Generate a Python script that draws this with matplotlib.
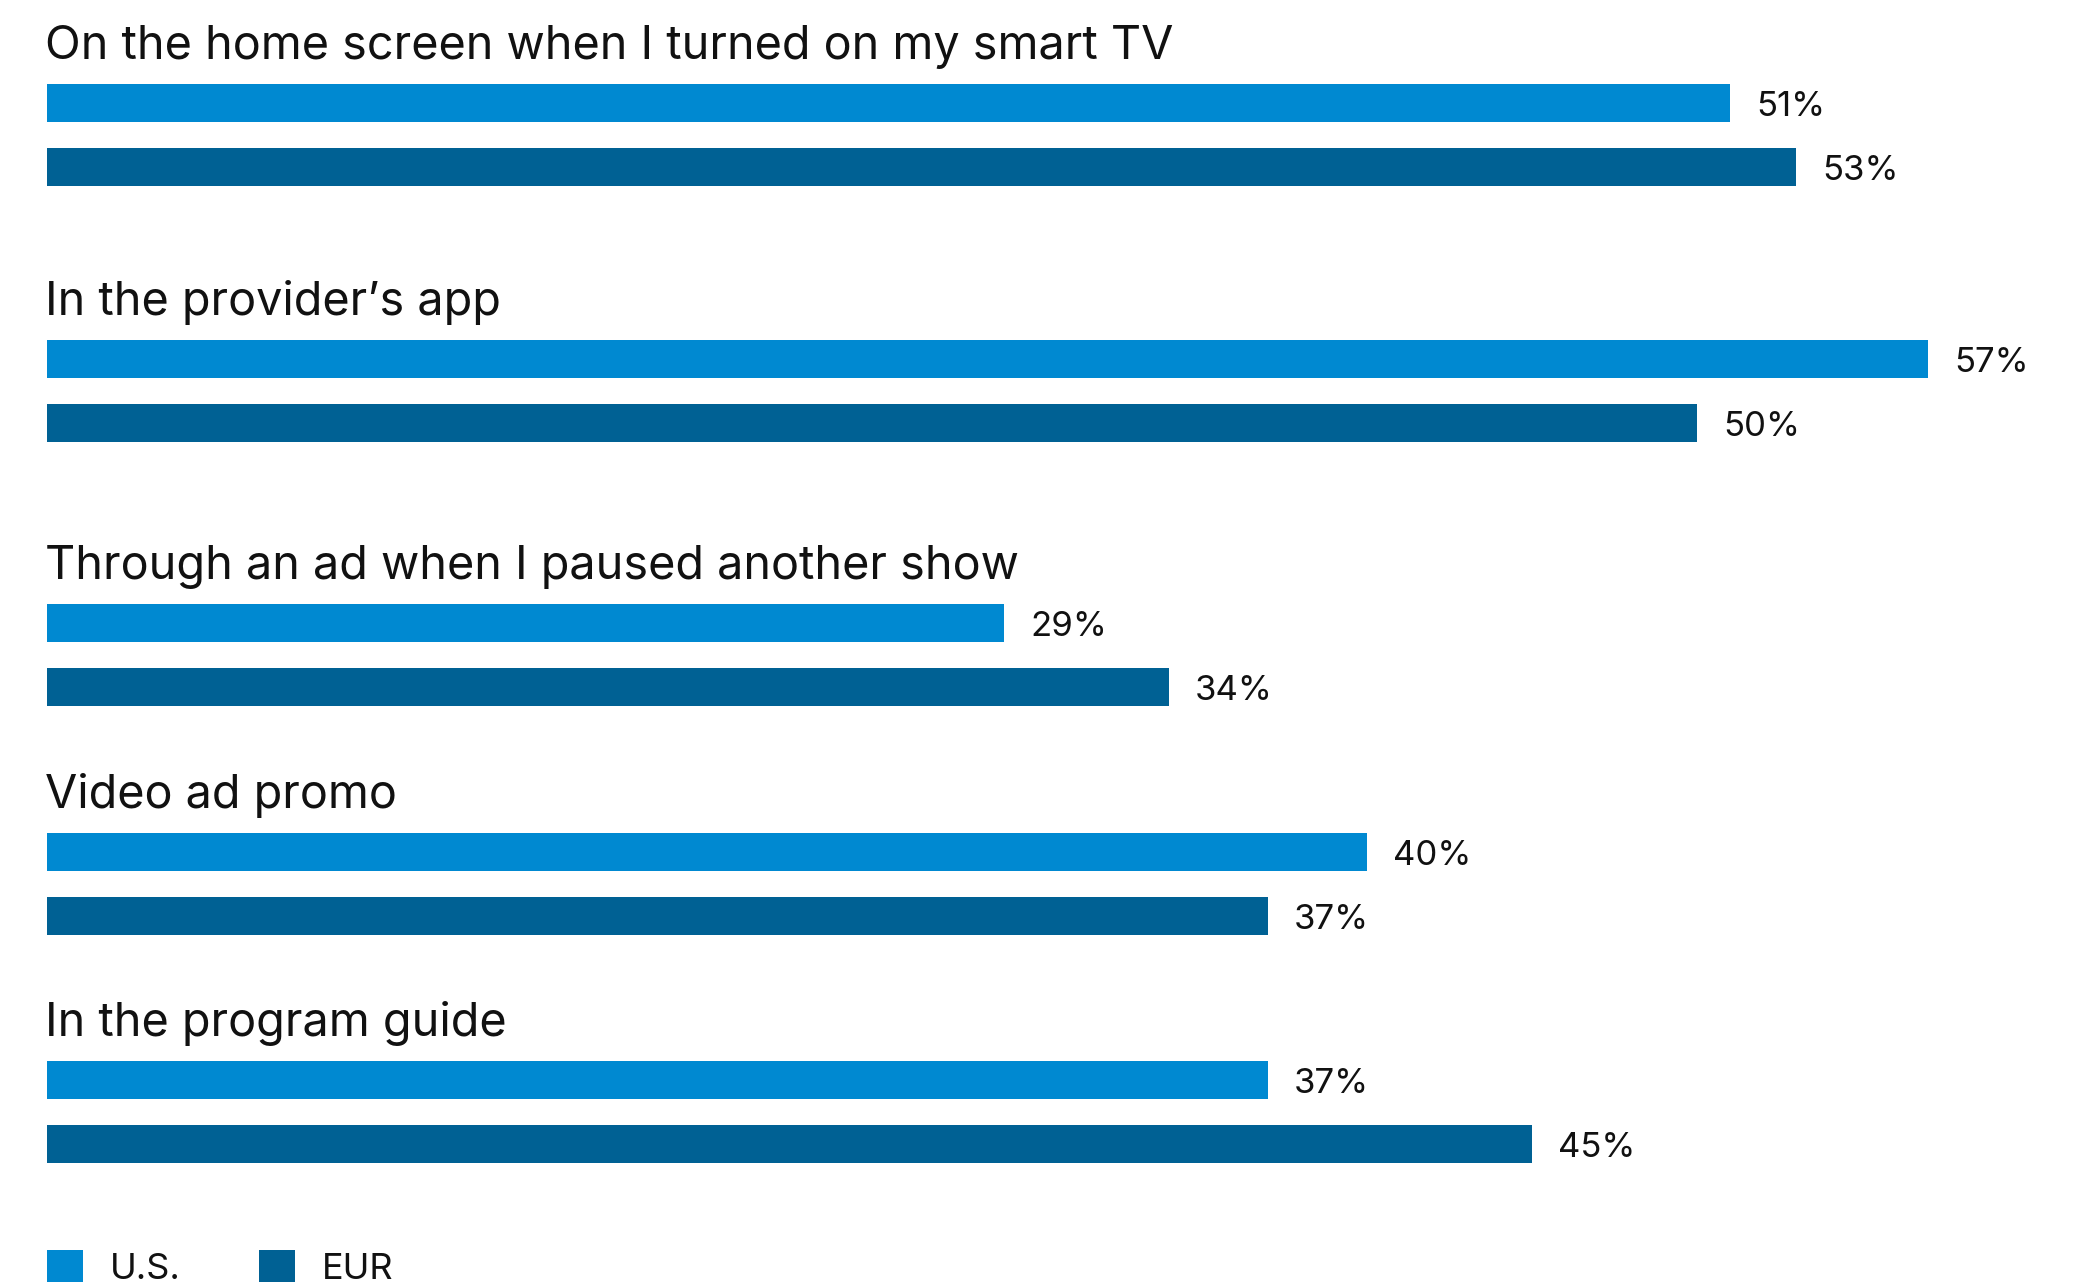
import numpy as np
import matplotlib
matplotlib.use("Agg")
import matplotlib.pyplot as plt
from matplotlib.patches import Patch

plt.rcParams["font.family"] = ["Inter", "DejaVu Sans"]

# Survey answers, share of respondents (%)
categories = [
    "On the home screen when I turned on my smart TV",
    "In the provider\u2019s app",
    "Through an ad when I paused another show",
    "Video ad promo",
    "In the program guide",
]
us_values = [51, 57, 29, 40, 37]
eur_values = [53, 50, 34, 37, 45]
series_names = ["U.S.", "EUR"]

# Layout (pixel units on a 2074 x 1283 canvas)
W, H = 2074, 1283
group_top = [84, 340, 604, 833, 1061]
bar_h = 38
pair_step = 64
x0_px = 47
px_per_pct = 33.0
colors = ["#0089D1", "#006194"]
text_color = "#111111"

fig = plt.figure(figsize=(W / 100, H / 100), dpi=100)
ax = fig.add_axes([x0_px / W, 0, 1 - x0_px / W, 1])
ax.set_xlim(0, (W - x0_px) / px_per_pct)
ax.set_ylim(H, 0)
ax.axis("off")

for i, cat in enumerate(categories):
    top = group_top[i]
    # category heading above each pair of bars
    ax.text(-0.05, top - 25, cat, fontsize=33.7, color=text_color,
            ha="left", va="baseline")
    for j, vals in enumerate([us_values, eur_values]):
        yc = top + bar_h / 2 + j * pair_step
        ax.barh(yc, vals[i], height=bar_h, left=0, color=colors[j], linewidth=0)
        ax.text(vals[i] + 26 / px_per_pct, yc + 13, f"{vals[i]}%", fontsize=25,
                color=text_color, ha="left", va="baseline")

handles = [Patch(facecolor=c, edgecolor="none") for c in colors]
fig.legend(handles, series_names, loc="upper left",
           bbox_to_anchor=(47 / W, 1 - 1250 / H), ncol=2, frameon=False,
           fontsize=26, handlelength=1.0, handleheight=1.0,
           handletextpad=0.75, columnspacing=2.15, borderpad=0,
           borderaxespad=0, labelcolor=text_color)

plt.savefig("out.png", dpi=100)
plt.close()
